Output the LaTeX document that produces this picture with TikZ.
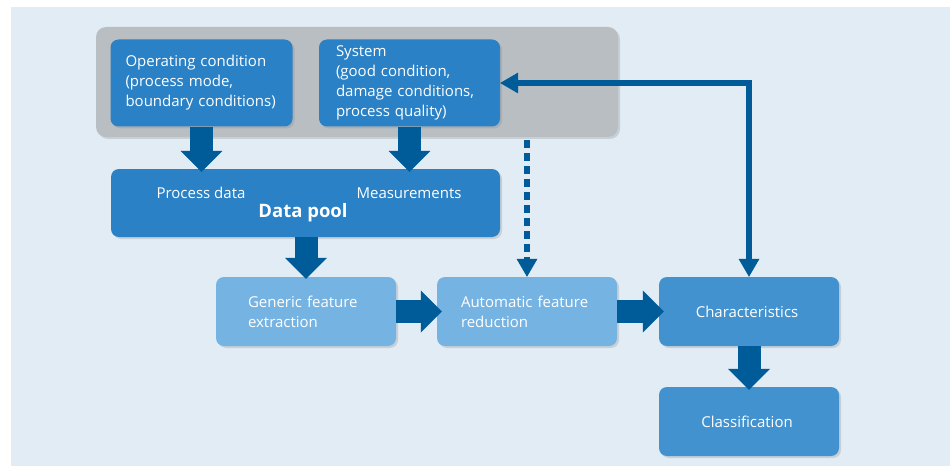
\documentclass[tikz,border=0pt]{standalone}
\usepackage{fontspec}
\setmainfont{Open Sans}
\usetikzlibrary{shapes,arrows.meta,shadows}
\definecolor{bgblue}{HTML}{E1ECF4}
\definecolor{grouppgrey}{HTML}{B9BEC3}
\definecolor{darkbox}{HTML}{2A81C5}
\definecolor{midbox}{HTML}{4292CF}
\definecolor{lightbox}{HTML}{75B3E3}
\definecolor{arrowblue}{HTML}{005B99}
\tikzstyle{block} = [rectangle, fill=darkbox, text=white, align=left,
    rounded corners=8pt, minimum height=87pt, inner ysep=0pt,
    drop shadow={opacity=0.25, shadow xshift=2pt, shadow yshift=-2pt}]
\tikzstyle{lowblock} = [block, fill=lightbox, minimum height=69pt]
\tikzstyle{resblock} = [block, fill=midbox, minimum height=69pt,
    minimum width=180pt, align=center]
\tikzstyle{groupbox} = [rectangle, fill=grouppgrey, rounded corners=10pt,
    minimum width=522pt, minimum height=110pt,
    drop shadow={opacity=0.25, shadow xshift=2pt, shadow yshift=-2pt}]
\tikzstyle{pooltext} = [text=white, inner sep=0pt]
\tikzstyle{bigarrow} = [draw=arrowblue, line width=23pt,
    -{Triangle[width=42pt, length=21pt, line width=0pt]}]
\tikzstyle{thinarrow} = [draw=arrowblue, line width=6pt]

\begin{document}
\begin{tikzpicture}[x=1pt, y=-1pt, font=\fontsize{15}{20}\selectfont]
\useasboundingbox (0,0) rectangle (950,468);
\fill [bgblue] (11,7) rectangle (950,466);

% inputs
\node [groupbox] (group) at (357,82) {};
\node [block, text width=152pt, inner xsep=15pt] (op) at (201.5,83)
    { Operating condition\\(process mode,\\boundary conditions) };
\node [block, text width=147pt, inner xsep=17pt, right of=op, node distance=208pt] (sys)
    { System\\(good condition,\\damage conditions,\\process quality) };

% data pool
\node [block, minimum width=389pt, minimum height=68pt] (pool) at (305.5,203) {};
\node [pooltext] (pdata) at (201,193) { Process data };
\node [pooltext] (meas) at (409,193) { Measurements };
\node [pooltext, font=\fontsize{18.5}{22}\selectfont\bfseries] (pooltitle) at (303,213) { Data pool };

% processing chain
\node [lowblock, text width=116pt, inner xsep=32pt] (gen) at (306,311.5)
    { Generic feature\\extraction };
\node [lowblock, text width=132pt, inner xsep=24pt, right of=gen, node distance=221pt] (auto)
    { Automatic feature\\reduction };
\node [resblock, right of=auto, node distance=222pt] (char) { Characteristics };
\node [resblock, below of=char, node distance=110pt] (class) { Classification };

\path [bigarrow, shorten >=-3pt] (op.south) -- (op.south |- pool.north);
\path [bigarrow, shorten >=-3pt] (sys.south) -- (sys.south |- pool.north);
\path [bigarrow, shorten >=-2pt] (gen.north |- pool.south) -- (gen.north);
\path [bigarrow, shorten >=-5pt] (gen.east) -- (auto.west);
\path [bigarrow, shorten >=-5pt] (auto.east) -- (char.west);
\path [bigarrow, shorten >=-3pt] (char.south) -- (class.north);
\path [thinarrow, dash pattern=on 8pt off 5pt, -{Triangle[width=21pt, length=18pt, line width=0pt]}]
    ([yshift=-3pt]auto.north |- group.south) -- (auto.north);
\path [thinarrow, {Triangle[width=21pt, length=18pt, line width=0pt]}-{Triangle[width=21pt, length=18pt, line width=0pt]}]
    (sys.east) -| (char.north);
\end{tikzpicture}
\end{document}
